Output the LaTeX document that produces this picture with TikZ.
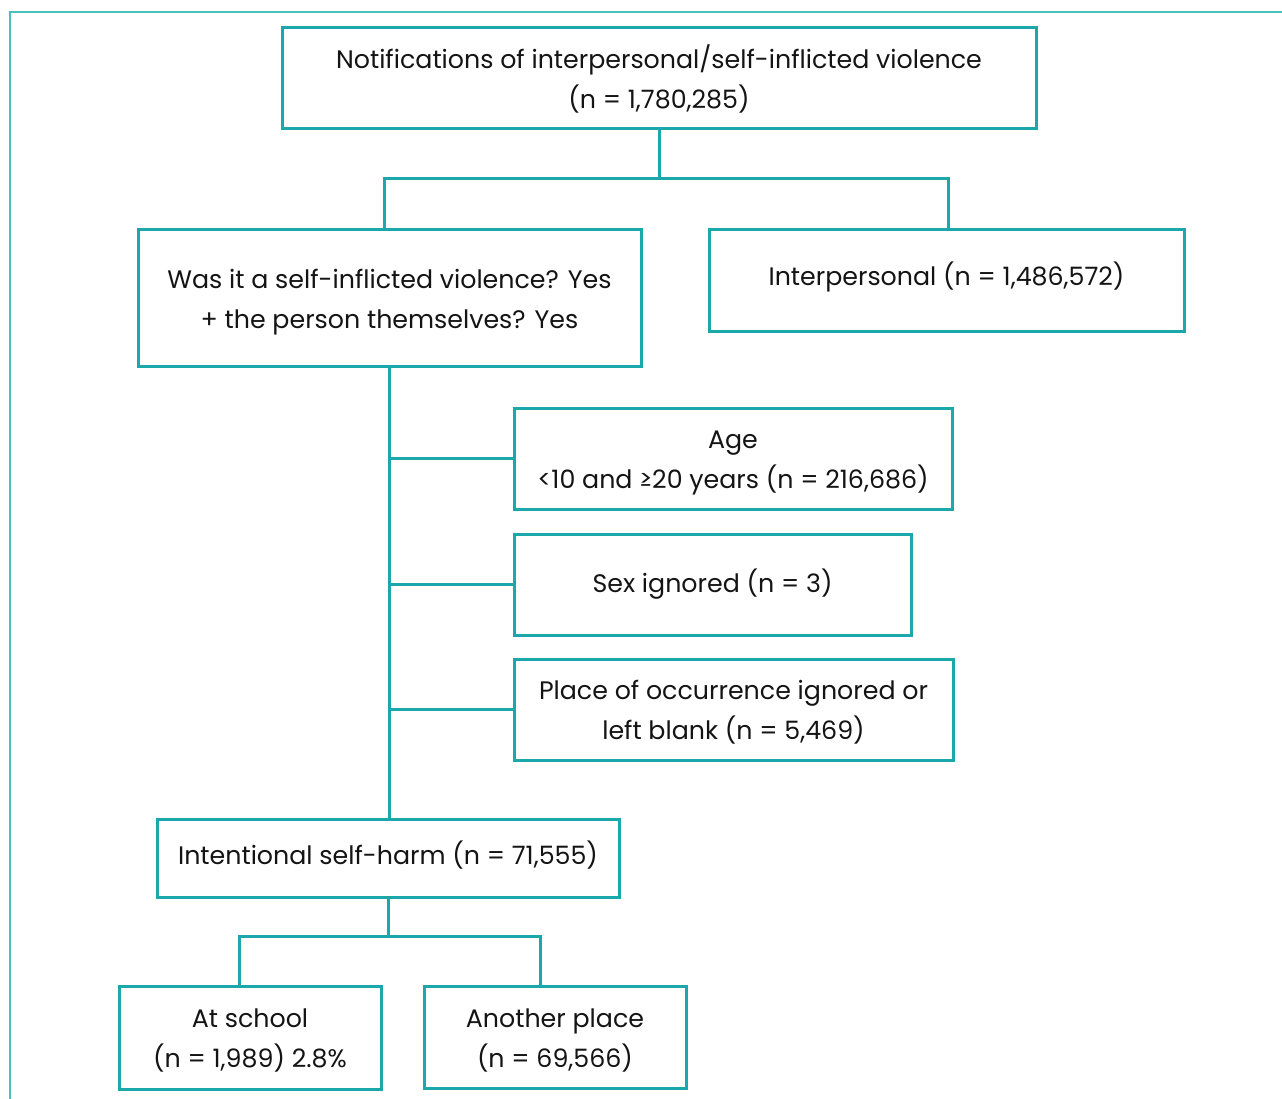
\documentclass[tikz,border=0pt]{standalone}
\usepackage{fontspec}
\setmainfont{Poppins}
\usetikzlibrary{calc}
\definecolor{boxteal}{HTML}{1AA8AA}
\definecolor{frameteal}{HTML}{4CC0C0}
\definecolor{txt}{HTML}{141414}
\tikzset{
  box/.style={draw=boxteal, line width=3pt, fill=white, inner sep=0pt},
  txt/.style={inner sep=0pt, align=center, text=txt, font=\fontsize{25.3}{40}\selectfont},
  conn/.style={draw=boxteal, line width=3pt},
}
\begin{document}
\begin{tikzpicture}[x=1pt,y=-1pt]
\useasboundingbox (0,0) rectangle (1282,1099);
\fill[white] (0,0) rectangle (1282,1099);
\draw[frameteal, line width=2.6pt] (10,1105) -- (10,12) -- (1290,12);

\node[box, minimum width=754pt, minimum height=101pt,
  label={[txt, yshift=-0.5pt]center:{Notifications of interpersonal/self-inflicted violence\\(n = 1,780,285)}}] (top) at (659,78.5) {};
\node[box, minimum width=503pt, minimum height=136pt,
  label={[txt, yshift=-4pt]center:{Was it a self-inflicted violence? Yes\\+ the person themselves? Yes}}] (self) at (389.5,298) {};
\node[box, minimum width=475pt, minimum height=101pt,
  label={[txt, yshift=3.5pt]center:{Interpersonal (n = 1,486,572)}}] (inter) at (946.5,280.5) {};
\node[box, minimum width=438pt, minimum height=101pt,
  label={[txt, yshift=-4pt]center:{Age\\<10 and ≥20 years (n = 216,686)}}] (age) at (733,458.5) {};
\node[box, minimum width=397pt, minimum height=101pt,
  label={[txt, yshift=0pt]center:{Sex ignored (n = 3)}}] (sex) at (712.5,584.5) {};
\node[box, minimum width=439pt, minimum height=101pt,
  label={[txt, yshift=-3pt]center:{Place of occurrence ignored or\\left blank (n = 5,469)}}] (place) at (733.5,709.5) {};
\node[box, minimum width=462pt, minimum height=78pt,
  label={[txt, yshift=2.5pt]center:{Intentional self-harm (n = 71,555)}}] (intent) at (388,858) {};
\node[box, minimum width=262pt, minimum height=103pt,
  label={[txt, yshift=-3pt]center:{At school\\(n = 1,989) 2.8\%}}] (school) at (250,1037.5) {};
\node[box, minimum width=262pt, minimum height=102pt,
  label={[txt, yshift=-3pt]center:{Another place\\(n = 69,566)}}] (another) at (555,1037) {};

\coordinate (j1) at (659,179);
\coordinate (j2) at (388,936);
\draw[conn] (top.south) -- (j1);
\draw[conn] (j1) -| ([xshift=-5.5pt]self.north);
\draw[conn] (j1) -| ([xshift=1.5pt]inter.north);
\draw[conn] (self.south) -- (self.south |- intent.north);
\draw[conn] (age.west) -- (age.west -| self.south);
\draw[conn] (sex.west) -- (sex.west -| self.south);
\draw[conn] (place.west) -- (place.west -| self.south);
\draw[conn] (intent.south) -- (j2);
\draw[conn] (j2) -| ([xshift=-11pt]school.north);
\draw[conn] (j2) -| ([xshift=-15pt]another.north);
\end{tikzpicture}
\end{document}
